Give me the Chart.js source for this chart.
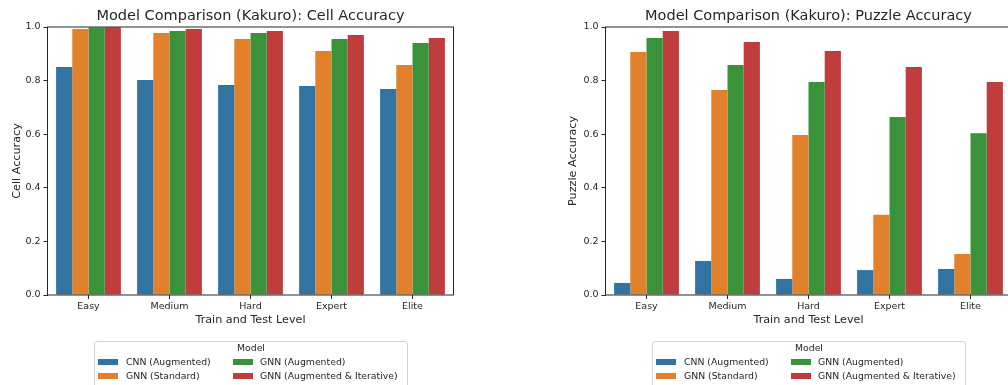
<!DOCTYPE html>
<html>
<head>
<meta charset="utf-8">
<script src="https://cdn.jsdelivr.net/npm/chart.js@4/dist/chart.umd.min.js"></script>
<style>
  html, body { margin: 0; padding: 0; background: #fff; overflow: hidden; width: 1008px; height: 385px; }
  .panel { position: absolute; top: 0; width: 504px; height: 385px; }
  .panel canvas { position: absolute; left: 0; top: 0; }
  .legend {
    position: absolute; left: 94px; top: 341px; width: 314px; height: 60px;
    box-sizing: border-box; border: 1px solid #d4d4d4; border-radius: 3px; background: #fff;
    font: 9.3px 'DejaVu Sans', sans-serif; color: #262626;
  }
  .legend .ttl { position: absolute; left: 0; right: 0; top: 0; line-height: 12px; text-align: center; }
  .legend .patch { position: absolute; width: 20px; height: 6px; }
  .legend .lbl { position: absolute; line-height: 12px; white-space: nowrap; }
</style>
</head>
<body>
<div class="panel" style="left:0px"><canvas id="cell" width="504" height="385"></canvas><div class="legend" id="cellLegend"></div></div>
<div class="panel" style="left:558px"><canvas id="puzzle" width="504" height="385"></canvas><div class="legend" id="puzzleLegend"></div></div>
<script>
// Kakuro difficulty levels and the four model variants
const levels = ['Easy', 'Medium', 'Hard', 'Expert', 'Elite'];
const models = ['CNN (Augmented)', 'GNN (Standard)', 'GNN (Augmented)', 'GNN (Augmented & Iterative)'];
const modelColors = ['#3274a1', '#e1812c', '#3a923a', '#c03d3e'];
const yTicks = [0.0, 0.2, 0.4, 0.6, 0.8, 1.0];

// Cell accuracy per level
const cellCnnAug      = [0.851, 0.802, 0.784, 0.780, 0.769];
const cellGnnStd      = [0.993, 0.978, 0.955, 0.910, 0.858];
const cellGnnAug      = [0.998, 0.985, 0.978, 0.955, 0.940];
const cellGnnAugIter  = [0.999, 0.993, 0.985, 0.970, 0.959];

// Puzzle accuracy per level
const puzzleCnnAug     = [0.045, 0.127, 0.060, 0.093, 0.097];
const puzzleGnnStd     = [0.907, 0.765, 0.597, 0.299, 0.153];
const puzzleGnnAug     = [0.959, 0.858, 0.795, 0.664, 0.604];
const puzzleGnnAugIter = [0.985, 0.944, 0.910, 0.851, 0.795];

const INK = '#262626';
Chart.defaults.font.family = "'DejaVu Sans', sans-serif";
Chart.defaults.color = INK;

// Axes frame (all four spines) drawn on top of the bars
const framePlugin = {
  id: 'frame',
  afterDatasetsDraw(chart) {
    const a = chart.chartArea, c = chart.ctx;
    c.save();
    c.strokeStyle = INK;
    c.lineWidth = 1;
    c.strokeRect(Math.round(a.left) - 0.5, Math.round(a.top), Math.round(a.right - a.left) + 1, Math.round(a.bottom - a.top));
    c.restore();
  }
};

function buildLegend(chart, el) {
  el.innerHTML = '';
  const t = document.createElement('div');
  t.className = 'ttl';
  t.textContent = 'Model';
  el.appendChild(t);
  const patchX = [3, 138], textX = [31, 165], rowY = [20, 34];
  chart.data.datasets.forEach((ds, i) => {
    const col = Math.floor(i / 2), row = i % 2;
    const p = document.createElement('div');
    p.className = 'patch';
    p.style.left = patchX[col] + 'px';
    p.style.top = (rowY[row] - 3) + 'px';
    p.style.background = ds.backgroundColor;
    el.appendChild(p);
    const l = document.createElement('div');
    l.className = 'lbl';
    l.style.left = textX[col] + 'px';
    l.style.top = (rowY[row] - 6) + 'px';
    l.textContent = ds.label;
    el.appendChild(l);
  });
}

function makeChart(canvasId, legendId, series, titleText, yLabel, yTitlePad) {
  const chart = new Chart(document.getElementById(canvasId), {
    type: 'bar',
    data: {
      labels: levels,
      datasets: series.map((vals, i) => ({
        label: models[i],
        data: vals,
        backgroundColor: modelColors[i],
        borderWidth: 0,
        categoryPercentage: 0.8,
        barPercentage: 1.0
      }))
    },
    options: {
      responsive: false,
      animation: false,
      layout: { padding: { left: 0, right: 51, top: 0, bottom: 0 } },
      plugins: {
        legend: { display: false },
        tooltip: { enabled: false },
        title: {
          display: true,
          text: titleText,
          fullSize: false,
          color: INK,
          font: { size: 14.5, weight: 'normal' },
          padding: { top: 7.5, bottom: 2.1 }
        }
      },
      scales: {
        x: {
          offset: true,
          grid: { display: true, drawOnChartArea: false, drawTicks: true, tickLength: 4, color: INK, offset: false },
          border: { display: false },
          ticks: { color: INK, font: { size: 9.5 }, padding: 2, maxRotation: 0 },
          title: { display: true, text: 'Train and Test Level', color: INK, font: { size: 11.2 }, padding: { top: 0, bottom: 58 } },
          afterFit(s) { s.height = 90; }
        },
        y: {
          min: 0,
          max: 1,
          afterBuildTicks(s) { s.ticks = yTicks.map(v => ({ value: v })); },
          grid: { display: true, drawOnChartArea: false, drawTicks: true, tickLength: 4.5, color: INK },
          border: { display: false },
          ticks: { color: INK, font: { size: 9.5 }, padding: 3, callback: v => Number(v).toFixed(1) },
          title: { display: true, text: yLabel, color: INK, font: { size: 11.2 }, padding: { top: yTitlePad, bottom: 0 } },
          afterFit(s) { s.width = 48; }
        }
      }
    },
    plugins: [framePlugin]
  });
  buildLegend(chart, document.getElementById(legendId));
  return chart;
}

makeChart('cell', 'cellLegend',
  [cellCnnAug, cellGnnStd, cellGnnAug, cellGnnAugIter],
  'Model Comparison (Kakuro): Cell Accuracy', 'Cell Accuracy', 10.3);
makeChart('puzzle', 'puzzleLegend',
  [puzzleCnnAug, puzzleGnnStd, puzzleGnnAug, puzzleGnnAugIter],
  'Model Comparison (Kakuro): Puzzle Accuracy', 'Puzzle Accuracy', 8.3);
</script>
</body>
</html>
